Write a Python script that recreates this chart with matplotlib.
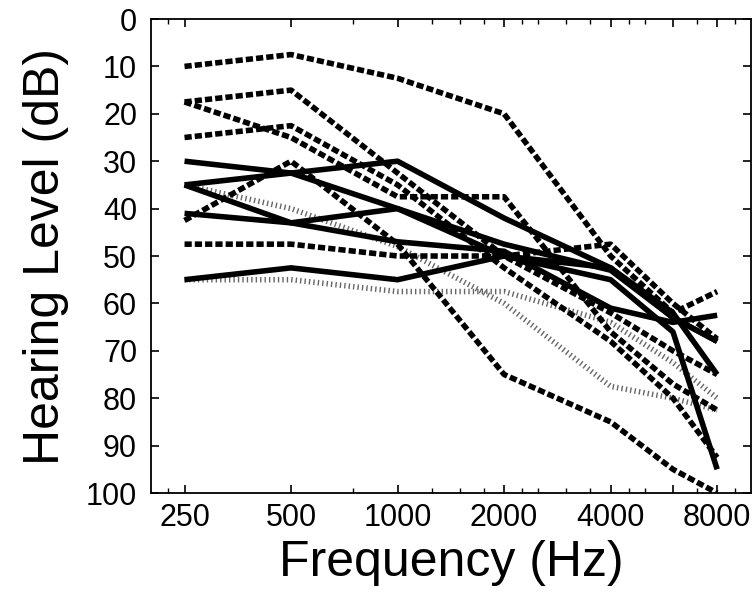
import matplotlib
matplotlib.use("Agg")
import matplotlib.pyplot as plt
from matplotlib import font_manager
from matplotlib.ticker import FixedLocator, NullFormatter

# Audiogram data (dB HL)
freqs = [250, 500, 1000, 2000, 4000, 6000, 8000]

solid_1 = [30, 32.5, 40, 47.5, 53, 63, 68]
solid_2 = [35, 32.5, 30, 42, 52.5, 62, 75]
solid_3 = [35, 43, 47, 49, 61, 64, 62.5]
solid_4 = [41, 43, 40, 50, 55, 66, 95]
solid_5 = [55, 52.5, 55, 50, 52.5, 63, 68]

dashed_1 = [10, 7.5, 12.5, 20, 50, 62, 57.5]
dashed_2 = [17.5, 15, 32.5, 50, 62, 70, 75]
dashed_3 = [17.5, 25, 37.5, 37.5, 66, 77, 82.5]
dashed_4 = [25, 22.5, 35, 52.5, 68, 80, 92.5]
dashed_5 = [42.5, 30, 47.5, 75, 85, 95, 100]
dashed_6 = [47.5, 47.5, 50, 50, 47.5, 60, 67.5]

dotted_1 = [35, 40, 48, 60, 77.5, 80, 82.5]
dotted_2 = [55, 55, 57.5, 57.5, 64, 72.5, 80]

xtick_major = [250, 500, 1000, 2000, 4000, 6000, 8000]
xtick_labels = ["250", "500", "1000", "2000", "4000", "", "8000"]
xtick_minor = [225, 750, 1250, 1500, 1750, 2250, 2500, 3000, 3500,
               4500, 5000, 7000, 9000]
ytick_vals = list(range(0, 101, 10))

# fonts
names = {f.name for f in font_manager.fontManager.ttflist}
tick_font = "Liberation Sans Narrow" if "Liberation Sans Narrow" in names else "Liberation Sans"
tick_size = 24 if tick_font == "Liberation Sans Narrow" else 22
plt.rcParams["font.family"] = ["Liberation Sans", "DejaVu Sans"]

fig = plt.figure(figsize=(7.55, 5.92), dpi=100)
ax = fig.add_axes([0.2, 0.1672, 0.7947, 0.8007])

lw = 4.0
for ys in [dotted_1, dotted_2]:
    ax.plot(freqs, ys, color="0.4", lw=lw, dashes=(0.25, 0.55),
            dash_capstyle="butt", zorder=2)
for ys in [dashed_1, dashed_2, dashed_3, dashed_4, dashed_5, dashed_6]:
    ax.plot(freqs, ys, color="black", lw=lw, dashes=(1.3, 0.55),
            dash_capstyle="butt", zorder=3)
for ys in [solid_1, solid_2, solid_3, solid_4, solid_5]:
    ax.plot(freqs, ys, color="black", lw=lw, solid_capstyle="butt", zorder=4)

ax.set_xscale("log")
ax.set_xlim(201, 9970)
ax.set_ylim(100, 0)

ax.xaxis.set_major_locator(FixedLocator(xtick_major))
ax.set_xticklabels(xtick_labels)
ax.xaxis.set_minor_locator(FixedLocator(xtick_minor))
ax.xaxis.set_minor_formatter(NullFormatter())
ax.set_yticks(ytick_vals)
ax.set_yticklabels([str(v) for v in ytick_vals])

ax.tick_params(axis="both", which="major", direction="in", length=6, width=1.2,
               top=True, right=True, labelsize=tick_size)
ax.tick_params(axis="both", which="minor", direction="in", length=3.5, width=1.0,
               top=True, right=True)
ax.tick_params(axis="x", which="major", pad=7)
ax.tick_params(axis="y", which="major", pad=10)
for lab in ax.get_xticklabels() + ax.get_yticklabels():
    lab.set_family([tick_font, "DejaVu Sans"])

for s in ax.spines.values():
    s.set_linewidth(1.3)

ax.set_xlabel("Frequency (Hz)", fontsize=36, labelpad=5)
ax.set_ylabel("Hearing Level (dB)", fontsize=36, labelpad=12)

fig.savefig("out.png", dpi=100)
